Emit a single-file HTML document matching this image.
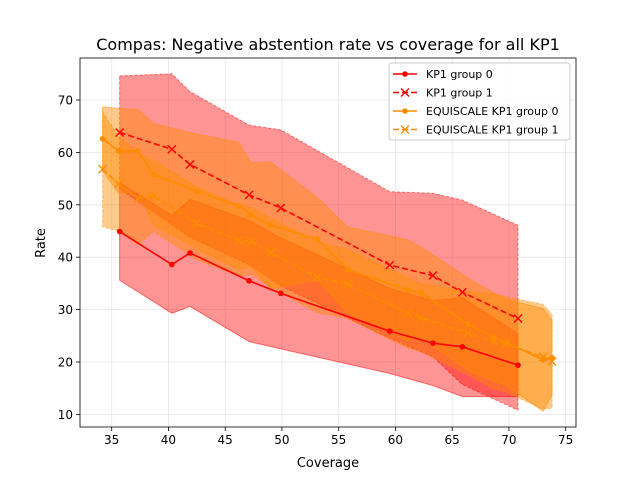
<!DOCTYPE html>
<html><head><meta charset="utf-8"><style>
body{margin:0;background:#fff}
svg text{font-family:"DejaVu Sans","Liberation Sans",sans-serif;fill:#000}
</style></head><body>
<svg id="chart" width="640" height="480" xmlns="http://www.w3.org/2000/svg">
<rect width="640" height="480" fill="#fff"/>
<g id="grid"></g><g id="bands"></g><g id="lines"></g><g id="axes"></g>
<text x="328" y="50" text-anchor="middle" font-size="16">Compas: Negative abstention rate vs coverage for all KP1</text>
<text x="328" y="467" text-anchor="middle" font-size="13">Coverage</text>
<text x="45" y="243" text-anchor="middle" font-size="13" transform="rotate(-90 45 243)">Rate</text>
<g id="legend"></g>
</svg>
<script>
const kpX = [35.7, 40.3, 41.9, 47.1, 49.9, 59.5, 63.3, 65.9, 70.8];
const kpG0 = [44.9, 38.6, 40.8, 35.5, 33.1, 25.9, 23.6, 22.9, 19.4];
const kpG0Lo = [35.6, 29.3, 30.6, 23.9, 22.5, 17.8, 15.5, 13.4, 13.4];
const kpG0Hi = [54.2, 48.0, 51.0, 47.0, 43.7, 34.0, 31.7, 32.3, 25.4];
const kpG1 = [63.8, 60.6, 57.7, 51.9, 49.4, 38.5, 36.5, 33.3, 28.3];
const kpG1Lo = [53.0, 46.2, 43.8, 38.6, 34.5, 24.5, 21.0, 15.7, 10.8];
const kpG1Hi = [74.6, 75.0, 71.6, 65.2, 64.3, 52.5, 52.2, 50.9, 46.1];
const eqX = [34.2, 35.6, 37.3, 38.7, 42.5, 46.2, 47.3, 49.0, 53.1, 55.8, 61.1, 62.2, 66.4, 68.7, 69.7, 73.0, 73.8];
const eqG0 = [62.6, 60.3, 60.3, 55.8, 52.6, 49.8, 48.1, 46.1, 43.5, 37.6, 33.7, 33.3, 27.2, 24.7, 23.8, 20.4, 20.8];
const eqG0Hi = [68.7, 68.4, 68.2, 65.5, 63.5, 61.9, 58.0, 58.2, 51.4, 45.8, 43.3, 42.0, 36.0, 33.1, 32.0, 30.2, 27.9];
const eqG1 = [56.8, 54.0, 51.2, 51.7, 46.5, 43.2, 43.1, 40.9, 36.2, 34.9, 29.3, 28.5, 25.5, 23.9, 23.4, 21.0, 20.1];
const eqG1Hi = [67.8, 63.0, 60.0, 58.5, 53.5, 50.0, 49.5, 47.5, 43.0, 41.5, 36.0, 35.0, 33.5, 33.0, 32.5, 31.0, 29.0];
const xTicks = [35, 40, 45, 50, 55, 60, 65, 70, 75];
const yTicks = [10, 20, 30, 40, 50, 60, 70];

const L = 80, R = 576, T = 58, B = 427;
const xs = v => 111.7 + (v - 35) * 11.35;
const ys = v => 100 - (v - 70) * 5.24;
const NS = 'http://www.w3.org/2000/svg';
function mk(tag, attrs, parent) { const e = document.createElementNS(NS, tag); for (const k in attrs) e.setAttribute(k, attrs[k]); parent.appendChild(e); return e; }
const grid = document.getElementById('grid'), bands = document.getElementById('bands'), lines = document.getElementById('lines'), axes = document.getElementById('axes');

xTicks.forEach(t => {
  const g = mk('line', {x1: xs(t), x2: xs(t), y1: T, y2: B, stroke: '#e6e6e6', 'stroke-width': 0.8}, grid);
  
  
  mk('line', {x1: xs(t), x2: xs(t), y1: B, y2: B + 4, stroke: '#000', 'stroke-width': 0.8}, axes);
  const tx = mk('text', {x: xs(t), y: B + 17, 'text-anchor': 'middle', 'font-size': 12}, axes);
  tx.textContent = t;
  
  
});
yTicks.forEach(t => {
  const g = mk('line', {x1: L, x2: R, y1: ys(t), y2: ys(t), stroke: '#e6e6e6', 'stroke-width': 0.8}, grid);
  
  
  mk('line', {x1: L - 4, x2: L, y1: ys(t), y2: ys(t), stroke: '#000', 'stroke-width': 0.8}, axes);
  const tx = mk('text', {x: L - 7, y: ys(t) + 4.5, 'text-anchor': 'end', 'font-size': 12}, axes);
  tx.textContent = t;
  
  
});
const frame = mk('rect', {x: L, y: T, width: R - L, height: B - T, fill: 'none', stroke: '#000', 'stroke-width': 0.8}, axes);



function band(x, lo, hi, color, op, dash, name) {
  let d = x.map((v, i) => (i ? 'L' : 'M') + xs(v) + ',' + ys(hi[i])).join('');
  for (let i = x.length - 1; i >= 0; i--) d += 'L' + xs(x[i]) + ',' + ys(lo[i]);
  const p = mk('path', {d: d + 'Z', fill: color, 'fill-opacity': op, stroke: color, 'stroke-opacity': 0.5, 'stroke-dasharray': dash ? '3,2' : 'none'}, bands);
  
  
}
const mirror = (m, h) => m.map((v, i) => 2 * v - h[i]);
band(kpX, kpG0Lo, kpG0Hi, '#ff0000', 0.42, false, 'kp1-group0-band');
band(kpX, kpG1Lo, kpG1Hi, '#ff0000', 0.42, true, 'kp1-group1-band');
band(eqX, mirror(eqG0, eqG0Hi), eqG0Hi, '#ff8c00', 0.45, false, 'equiscale-group0-band');
band(eqX, mirror(eqG1, eqG1Hi), eqG1Hi, '#ff8c00', 0.45, true, 'equiscale-group1-band');

function series(x, y, color, dash, marker, name) {
  const pl = mk('polyline', {points: x.map((v, i) => xs(v) + ',' + ys(y[i])).join(' '), fill: 'none', stroke: color, 'stroke-width': 1.6, 'stroke-dasharray': dash ? '6,3' : 'none'}, lines);
  
  
  x.forEach((v, i) => drawMarker(xs(v), ys(y[i]), color, marker, lines, name));
}
function drawMarker(cx, cy, color, marker, parent, name) {
  let m;
  if (marker === 'o') m = mk('circle', {cx, cy, r: 2.8, fill: color}, parent);
  else m = mk('path', {d: `M${cx-4},${cy-4}L${cx+4},${cy+4}M${cx-4},${cy+4}L${cx+4},${cy-4}`, stroke: color, 'stroke-width': 1.4}, parent);
  
  
}
series(kpX, kpG0, '#ff0000', false, 'o', 'kp1-group0');
series(kpX, kpG1, '#ff0000', true, 'x', 'kp1-group1');
series(eqX, eqG0, '#ff8c00', false, 'o', 'equiscale-group0');
series(eqX, eqG1, '#ff8c00', true, 'x', 'equiscale-group1');

const lg = document.getElementById('legend');
const box = mk('rect', {x: 389, y: 63, width: 181, height: 77, rx: 3, fill: '#fff', 'fill-opacity': 0.8, stroke: '#ccc'}, lg);


const entries = [['KP1 group 0', '#ff0000', false, 'o'], ['KP1 group 1', '#ff0000', true, 'x'], ['EQUISCALE KP1 group 0', '#ff8c00', false, 'o'], ['EQUISCALE KP1 group 1', '#ff8c00', true, 'x']];
entries.forEach((e, i) => {
  const y = 74 + i * 18.5;
  const l = mk('line', {x1: 393, x2: 417, y1: y, y2: y, stroke: e[1], 'stroke-width': 1.6, 'stroke-dasharray': e[2] ? '6,3' : 'none'}, lg);
  
  
  drawMarker(405, y, e[1], e[3], lg, 'legend-entry');
  const t = mk('text', {x: 426, y: y + 4, 'font-size': 11}, lg);
  t.textContent = e[0];
  
  
});
</script>
</body></html>
